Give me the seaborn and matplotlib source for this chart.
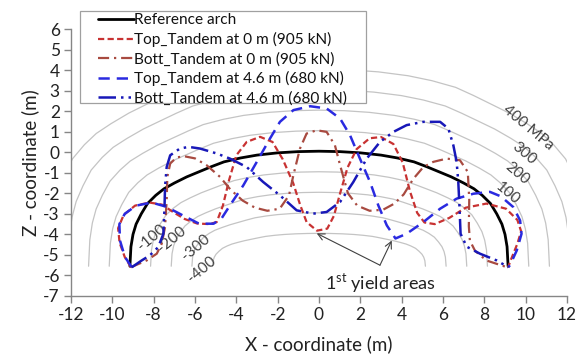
import numpy as np
import matplotlib
matplotlib.use("Agg")
import matplotlib.pyplot as plt
from matplotlib.patches import Rectangle
import seaborn as sns

# ---------------- data ----------------
arch_x = [-9.15, -9.1, -9.0, -8.85, -8.6, -8.3, -7.9, -7.5, -7.0, -6.4, -5.85, -5.2, -4.6,
          -3.8, -3.0, -2.0, -1.0, 0.0, 1.0, 2.0, 3.0, 3.8, 4.6, 5.2, 5.85, 6.4, 7.0, 7.5,
          7.9, 8.3, 8.6, 8.85, 9.0, 9.1, 9.15]
arch_z = [-5.55, -4.6, -4.0, -3.5, -3.0, -2.5, -2.1, -1.78, -1.5, -1.2, -0.97, -0.7, -0.47,
          -0.28, -0.14, -0.03, 0.03, 0.05, 0.03, -0.03, -0.14, -0.28, -0.47, -0.7, -0.97,
          -1.2, -1.5, -1.78, -2.1, -2.5, -3.0, -3.5, -4.0, -4.6, -5.55]

top0_x = [-9.1, -9.4, -9.65, -9.72, -9.45, -8.9, -8.2, -7.6, -7.0, -6.5, -5.9, -5.3, -4.95,
          -4.65, -4.35, -4.0, -3.5, -2.85, -2.25, -1.75, -1.25, -0.9, -0.6, -0.1, 0.4, 0.72,
          1.05, 1.38, 1.82, 2.45, 3.0, 3.6, 4.05, 4.4, 4.75, 5.1, 5.6, 6.3, 7.1, 8.1, 9.05,
          9.6, 9.78, 9.6, 9.3, 9.15]
top0_z = [-5.6, -5.1, -4.4, -3.7, -3.05, -2.6, -2.45, -2.55, -2.95, -3.25, -3.47, -3.5, -3.4,
          -2.6, -1.35, -0.15, 0.5, 0.75, 0.5, -0.35, -1.5, -2.6, -3.4, -3.82, -3.72, -3.1,
          -1.9, -0.75, 0.15, 0.68, 0.74, 0.4, -0.5, -1.9, -2.95, -3.42, -3.5, -3.2, -2.7,
          -2.5, -2.75, -3.3, -3.85, -4.45, -5.2, -5.6]

bott0_x = [-9.1, -8.34, -7.85, -7.61, -7.45, -7.37, -7.34, -7.2, -6.89, -6.5, -6.0, -5.44,
           -4.79, -4.3, -3.7, -3.1, -2.5, -1.9, -1.45, -1.24, -0.92, -0.6, -0.11, 0.37, 0.77,
           1.02, 1.4, 1.85, 2.45, 3.1, 3.65, 4.1, 4.56, 5.05, 5.53, 6.18, 6.82, 7.2, 7.27,
           7.25, 7.3, 7.55, 8.1, 9.1]
bott0_z = [-5.6, -5.27, -4.94, -4.45, -3.64, -2.34, -1.2, -0.55, -0.25, -0.2, -0.3, -0.63,
           -1.2, -1.8, -2.35, -2.7, -2.85, -2.75, -2.1, -1.12, 0.18, 0.91, 1.07, 0.99, 0.34,
           -0.63, -2.0, -2.6, -2.85, -2.8, -2.5, -2.05, -1.3, -0.72, -0.47, -0.31, -0.39,
           -0.96, -2.3, -3.6, -4.3, -4.8, -5.27, -5.6]

top46_x = [-9.06, -9.39, -9.63, -9.66, -9.4, -8.85, -8.1, -7.4, -6.6, -5.8, -5.1, -4.7,
           -4.31, -3.66, -3.01, -2.37, -1.89, -1.24, -0.43, 0.37, 1.02, 1.5, 1.98, 2.47, 2.87,
           3.28, 3.7, 4.24, 5.05, 5.86, 6.66, 7.47, 8.27, 8.8, 9.4, 9.73, 9.8, 9.57, 9.24, 9.16]
top46_z = [-5.6, -5.1, -4.3, -3.5, -3.0, -2.6, -2.45, -2.65, -3.07, -3.48, -3.48, -3.2,
           -2.59, -1.61, -0.47, 0.67, 1.48, 2.05, 2.24, 2.13, 1.64, 0.83, -0.31, -1.45, -2.59,
           -3.56, -4.2, -3.97, -3.4, -2.75, -2.26, -2.02, -1.93, -2.15, -2.67, -3.32, -3.97,
           -4.78, -5.5, -5.6]

bott46_x = [-9.06, -8.58, -8.18, -7.78, -7.53, -7.48, -7.45, -7.37, -7.2, -6.73, -6.3, -5.76,
            -4.95, -4.31, -3.5, -2.7, -1.89, -1.08, -0.28, 0.37, 1.02, 1.66, 2.31, 2.95, 3.6,
            4.24, 5.05, 5.86, 6.26, 6.5, 6.66, 6.74, 6.8, 6.85, 7.15, 7.79, 8.6, 9.16]
bott46_z = [-5.6, -5.27, -5.02, -4.62, -3.97, -2.83, -1.69, -0.72, -0.15, 0.18, 0.26, 0.18,
            -0.06, -0.31, -0.72, -1.45, -2.1, -2.83, -2.99, -2.91, -2.42, -1.45, -0.31, 0.5,
            0.99, 1.32, 1.48, 1.48, 1.15, 0.34, -0.47, -1.45, -2.7, -3.97, -4.6, -4.94, -5.27,
            -5.6]

stress_levels = [-400, -300, -200, -100, 100, 200, 300, 400]
stress_labels = ["-400", "-300", "-200", "-100", "100", "200", "300", "400 MPa"]
x_ticks = list(range(-12, 13, 2))
z_ticks = list(range(-7, 7))

series_labels = ["Reference arch", "Top_Tandem at 0 m (905 kN)", "Bott_Tandem at 0 m (905 kN)",
                 "Top_Tandem at 4.6 m (680 kN)", "Bott_Tandem at 4.6 m (680 kN)"]

# ---------------- style ----------------
sns.set_theme(style="ticks")
plt.rcParams['font.family'] = ['Lato', 'DejaVu Sans']
plt.rcParams['axes.unicode_minus'] = False

W, H = 582, 357
fig = plt.figure(figsize=(W / 100, H / 100), dpi=100)
ax = fig.add_axes([71 / W, 1 - 296 / H, (567 - 71) / W, (296 - 29) / H])

# stress scale arcs: arch scaled outward / inward by 1 m per 100 MPa
ax_arr = np.array(arch_x)
az_arr = np.array(arch_z)
half_span = ax_arr.max()
base = az_arr.min()
rise = az_arr.max() - base
for lev in stress_levels:
    d = lev / 100.0
    xs = ax_arr * (half_span + d) / half_span
    zs = base + (az_arr - base) * (rise + d) / rise
    ax.plot(xs, zs, color="#c4c4c4", lw=0.9, zorder=1)

# label positions for the scale
lab_pos = {"-400": (-5.68, -5.7, 40), "-300": (-5.97, -4.62, 40), "-200": (-7.13, -4.26, 40),
           "-100": (-8.1, -4.13, 40), "100": (9.1, -2.0, -40), "200": (9.58, -1.03, -40),
           "300": (9.92, -0.05, -40), "400 MPa": (10.11, 1.22, -40)}
for lab in stress_labels:
    x, y, r = lab_pos[lab]
    ax.text(x, y, lab, rotation=r, ha="center", va="center", rotation_mode="anchor",
            fontsize=11, color="#404040", zorder=2)

sns.lineplot(x=arch_x, y=arch_z, sort=False, estimator=None, color="black", lw=2.0,
             label=series_labels[0], ax=ax, zorder=3)
sns.lineplot(x=top0_x, y=top0_z, sort=False, estimator=None, color="#c83232", lw=1.6,
             linestyle=(0, (2.8, 1.5)), label=series_labels[1], ax=ax, zorder=4)
sns.lineplot(x=bott0_x, y=bott0_z, sort=False, estimator=None, color="#a84a40", lw=1.6,
             linestyle=(0, (5, 2.2, 1, 2.2)), label=series_labels[2], ax=ax, zorder=4)
sns.lineplot(x=top46_x, y=top46_z, sort=False, estimator=None, color="#2a2ae0", lw=1.8,
             linestyle=(0, (4.5, 2.8)), label=series_labels[3], ax=ax, zorder=5)
sns.lineplot(x=bott46_x, y=bott46_z, sort=False, estimator=None, color="#1818b8", lw=1.8,
             linestyle=(0, (7, 2, 1, 2, 1, 2)), label=series_labels[4], ax=ax, zorder=5)

# annotation
ax.text(2.95, -6.4, r"1$^{\mathregular{st}}$ yield areas", ha="center", va="center",
        fontsize=13, color="#222222")
for tgt in [(-0.11, -3.95), (3.52, -4.3)]:
    ax.annotate("", xy=tgt, xytext=(2.95, -5.5),
                arrowprops=dict(arrowstyle="->", color="#404040", lw=0.8,
                                shrinkA=0, shrinkB=0))

ax.set_xlim(-12, 12)
ax.set_ylim(-7, 6)
ax.set_xticks(x_ticks)
ax.set_xticklabels([str(t) for t in x_ticks])
ax.set_yticks(z_ticks)
ax.set_yticklabels([str(t) for t in z_ticks])
ax.tick_params(direction="out", length=5, width=1, color="#868686", labelsize=12.5,
               labelcolor="#222222", pad=3)
for s in ["top", "right"]:
    ax.spines[s].set_visible(False)
for s in ["left", "bottom"]:
    ax.spines[s].set_color("#868686")
    ax.spines[s].set_linewidth(1.0)
ax.set_xlabel("X - coordinate (m)", fontsize=13.5, color="#222222", labelpad=9)
ax.set_ylabel("Z - coordinate (m)", fontsize=13.5, color="#222222", labelpad=3)

# legend: frame drawn as a figure rectangle, entries as a frameless figure legend
fig.patches.append(Rectangle((80 / W, 1 - 103 / H), (366 - 80) / W, (103 - 11) / H,
                             transform=fig.transFigure, facecolor="white",
                             edgecolor="#a0a0a0", lw=0.9, zorder=3))
handles, labels = ax.get_legend_handles_labels()
if ax.get_legend() is not None:
    ax.get_legend().remove()
leg = fig.legend(handles, labels, loc="upper left", bbox_to_anchor=(95 / W, 1 - 10 / H),
                 borderaxespad=0, frameon=False, fontsize=11.1, handlelength=2.3,
                 handletextpad=0.05, labelspacing=0.32, borderpad=0.2)
leg.set_zorder(4)
for t in leg.get_texts():
    t.set_color("#111111")

fig.savefig("out.png", dpi=100)
